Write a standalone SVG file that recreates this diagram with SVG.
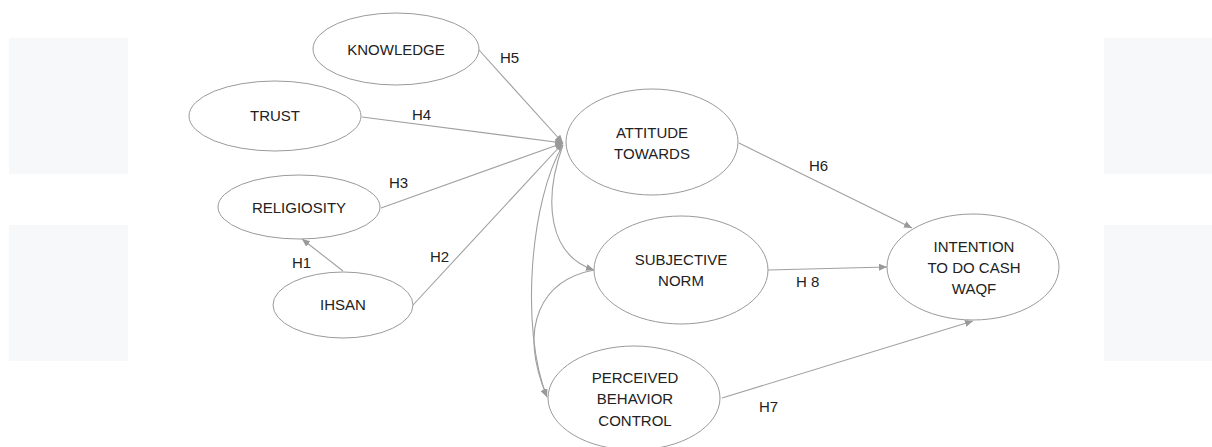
<svg xmlns="http://www.w3.org/2000/svg" width="1212" height="447" viewBox="0 0 1212 447">
<defs>
<style>
.bg{fill:#f7f8fa}
.node ellipse{fill:#fff;stroke:#9a9a9a;stroke-width:1}
text{font-family:"Liberation Sans",Arial,sans-serif;font-size:15px;fill:#222;text-anchor:middle}
.lbl{text-anchor:start}
.edge{fill:none;stroke:#a0a0a0;stroke-width:1.1;marker-end:url(#arr)}
</style>
<marker id="arr" markerUnits="userSpaceOnUse" markerWidth="9" markerHeight="8" refX="8" refY="3.5" orient="auto">
<path d="M0,0 L8,3.5 L0,7 z" fill="#999"/>
</marker>
</defs>
<rect width="1212" height="447" fill="#fff"/>
<rect class="bg" x="9" y="38" width="119" height="136"/>
<rect class="bg" x="9" y="225" width="119" height="136"/>
<rect class="bg" x="1104" y="38" width="108" height="136"/>
<rect class="bg" x="1104" y="225" width="108" height="136"/>

<g id="connectors">
<path class="edge" d="M479,50 L563,143"/>
<path class="edge" d="M362,117 L563,143"/>
<path class="edge" d="M381,208 L563,143"/>
<path class="edge" d="M413,305 L563,143"/>
<path class="edge" d="M343,271 L302,239"/>
<path class="edge" d="M739,143 L912,228"/>
<path class="edge" d="M768,270 L887,267"/>
<path class="edge" d="M722,398 L973,321"/>
<path class="edge" d="M563,145 C543,200 548,255 594,270"/>
<path class="edge" d="M563,145 C530,200 520,330 547,397"/>
<path class="edge" d="M594,270 C542,280 517,325 547,397"/>
</g>

<g id="knowledge" class="node"><ellipse cx="396" cy="49" rx="83" ry="36"/><text x="396" y="55">KNOWLEDGE</text></g>
<g id="trust" class="node"><ellipse cx="275" cy="116" rx="86" ry="35"/><text x="275" y="121">TRUST</text></g>
<g id="religiosity" class="node"><ellipse cx="299" cy="207" rx="81" ry="32"/><text x="299" y="213">RELIGIOSITY</text></g>
<g id="ihsan" class="node"><ellipse cx="343" cy="305" rx="70" ry="33"/><text x="343" y="310">IHSAN</text></g>
<g id="attitude" class="node"><ellipse cx="652" cy="142" rx="86" ry="53"/><text x="652" y="138">ATTITUDE</text><text x="652" y="159">TOWARDS</text></g>
<g id="subjective" class="node"><ellipse cx="681" cy="270" rx="87" ry="54"/><text x="681" y="265">SUBJECTIVE</text><text x="681" y="286">NORM</text></g>
<g id="perceived" class="node"><ellipse cx="634" cy="398" rx="86" ry="52"/><text x="635" y="383">PERCEIVED</text><text x="635" y="404">BEHAVIOR</text><text x="635" y="426">CONTROL</text></g>
<g id="intention" class="node"><ellipse cx="973" cy="267" rx="86" ry="53"/><text x="974" y="252">INTENTION</text><text x="974" y="273">TO DO CASH</text><text x="974" y="294">WAQF</text></g>

<g id="labels">
<text class="lbl" x="500" y="63">H5</text>
<text class="lbl" x="412" y="120">H4</text>
<text class="lbl" x="389" y="188">H3</text>
<text class="lbl" x="292" y="268">H1</text>
<text class="lbl" x="430" y="262">H2</text>
<text class="lbl" x="809" y="171">H6</text>
<text class="lbl" x="796" y="287">H 8</text>
<text class="lbl" x="759" y="412">H7</text>
</g>
</svg>
